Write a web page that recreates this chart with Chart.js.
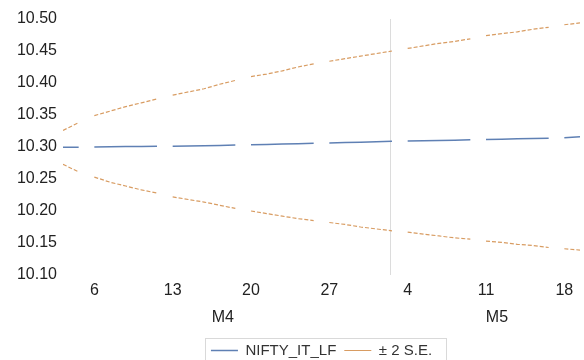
<!DOCTYPE html>
<html>
<head>
<meta charset="utf-8">
<script src="https://cdn.jsdelivr.net/npm/chart.js@4/dist/chart.umd.min.js"></script>
<style>
  html, body { margin: 0; padding: 0; background: #fff; }
  #wrap { width: 584px; height: 360px; position: relative; }
</style>
</head>
<body>
<div id="wrap"><canvas id="c" width="584" height="360"></canvas></div>
<script>
// ---- Data (business-day observations, 2 Apr – 19 May) ----
const obsDates = [
  '2015-04-02','2015-04-03',
  '2015-04-06','2015-04-07','2015-04-08','2015-04-09','2015-04-10',
  '2015-04-13','2015-04-14','2015-04-15','2015-04-16','2015-04-17',
  '2015-04-20','2015-04-21','2015-04-22','2015-04-23','2015-04-24',
  '2015-04-27','2015-04-28','2015-04-29','2015-04-30','2015-05-01',
  '2015-05-04','2015-05-05','2015-05-06','2015-05-07','2015-05-08',
  '2015-05-11','2015-05-12','2015-05-13','2015-05-14','2015-05-15',
  '2015-05-18','2015-05-19'
];
const forecast = [
  10.2996, 10.2998,
  10.3000, 10.3003, 10.3006, 10.3008, 10.3010,
  10.3013, 10.3016, 10.3019, 10.3024, 10.3030,
  10.3035, 10.3040, 10.3046, 10.3052, 10.3058,
  10.3064, 10.3070, 10.3076, 10.3082, 10.3088,
  10.3092, 10.3097, 10.3102, 10.3107, 10.3112,
  10.3117, 10.3122, 10.3127, 10.3132, 10.3137,
  10.3145, 10.3160
];
const upperBand = [
  10.326, 10.338,
  10.349, 10.356, 10.363, 10.369, 10.375,
  10.381, 10.386, 10.391, 10.398, 10.404,
  10.410, 10.414, 10.419, 10.425, 10.430,
  10.434, 10.438, 10.442, 10.446, 10.450,
  10.454, 10.458, 10.462, 10.465, 10.469,
  10.474, 10.477, 10.480, 10.484, 10.487,
  10.491, 10.494
];
const lowerBand = [
  10.273, 10.261,
  10.253, 10.245, 10.239, 10.233, 10.228,
  10.222, 10.218, 10.214, 10.209, 10.204,
  10.200, 10.196, 10.192, 10.188, 10.185,
  10.182, 10.179, 10.175, 10.172, 10.169,
  10.167, 10.164, 10.161, 10.158, 10.156,
  10.153, 10.151, 10.148, 10.146, 10.143,
  10.141, 10.139
];
const yTickValues = [10.10, 10.15, 10.20, 10.25, 10.30, 10.35, 10.40, 10.45, 10.50];
const monthLabels = ['M4', 'M5'];
const seriesNames = ['NIFTY_IT_LF', '\u00B1 2 S.E.'];

// ---- derived helpers ----
const dateObjs = obsDates.map(s => new Date(s + 'T00:00:00Z'));
const mondayIdx = [];
const mondayLabels = [];
dateObjs.forEach((d, i) => { if (d.getUTCDay() === 1) { mondayIdx.push(i); mondayLabels.push(String(d.getUTCDate())); } });
let sepIdx = 0;
for (let i = 1; i < dateObjs.length; i++) {
  if (dateObjs[i].getUTCMonth() !== dateObjs[i-1].getUTCMonth()) { sepIdx = i; }
}
const monthPos = [10.2, 27.7];

function buildPoints(vals) {
  const pts = [];
  for (let i = 0; i < vals.length; i++) {
    pts.push({x: i, y: vals[i]});
    if (i < vals.length - 1) {
      const gapDays = (dateObjs[i+1] - dateObjs[i]) / 86400000;
      if (gapDays > 1) pts.push({x: i + 0.5, y: null});
    }
  }
  return pts;
}

const FONT = "'Liberation Sans', Arial, sans-serif";
const BLUE = '#5f80b4';
const ORANGE = '#d89c62';

const decor = {
  id: 'decor',
  afterLayout(chart) {
    const lg = chart.legend;
    if (lg) { lg.top += 8; lg.bottom += 8; }
  },
  beforeDatasetsDraw(chart) {
    const {ctx, chartArea} = chart;
    const x = chart.scales.x.getPixelForValue(sepIdx - 0.15);
    ctx.save();
    ctx.strokeStyle = '#dcdcdc';
    ctx.lineWidth = 1;
    ctx.beginPath();
    ctx.moveTo(Math.round(x) + 0.5, chartArea.top);
    ctx.lineTo(Math.round(x) + 0.5, chartArea.bottom);
    ctx.stroke();
    ctx.restore();
  },
  afterDraw(chart) {
    const lg = chart.legend;
    if (!lg || !lg.legendHitBoxes || !lg.legendHitBoxes.length) return;
    const hb = lg.legendHitBoxes;
    let l = Infinity, r = -Infinity, cy = 0;
    hb.forEach(b => { l = Math.min(l, b.left); r = Math.max(r, b.left + b.width); cy = b.top + b.height / 2; });
    const ctx = chart.ctx;
    ctx.save();
    ctx.strokeStyle = '#d9d9d9';
    ctx.lineWidth = 1;
    ctx.strokeRect(Math.round(l - 6) + 0.5, Math.round(cy - 13) + 0.5, Math.round(r - l + 20), 30);
    ctx.restore();
  }
};

new Chart(document.getElementById('c'), {
  type: 'line',
  data: {
    datasets: [
      {
        label: seriesNames[0],
        data: buildPoints(forecast),
        borderColor: BLUE,
        backgroundColor: 'rgba(0,0,0,0)',
        borderWidth: 1.5,
        pointRadius: 0,
        tension: 0,
        spanGaps: false
      },
      {
        label: seriesNames[1],
        data: buildPoints(upperBand),
        borderColor: ORANGE,
        backgroundColor: 'rgba(0,0,0,0)',
        borderWidth: 1.2,
        borderDash: [4, 2],
        pointRadius: 0,
        tension: 0,
        spanGaps: false
      },
      {
        label: '_lower',
        data: buildPoints(lowerBand),
        borderColor: ORANGE,
        backgroundColor: 'rgba(0,0,0,0)',
        borderWidth: 1.2,
        borderDash: [4, 2],
        pointRadius: 0,
        tension: 0,
        spanGaps: false
      }
    ]
  },
  options: {
    responsive: false,
    animation: false,
    layout: { padding: { top: 19, right: 4, left: 0, bottom: 0 } },
    plugins: {
      tooltip: { enabled: false },
      legend: {
        position: 'bottom',
        fullSize: false,
        labels: {
          color: '#333',
          font: { family: FONT, size: 15 },
          boxWidth: 27,
          boxHeight: 0,
          padding: 8,
          filter: item => !item.text.startsWith('_')
        }
      }
    },
    scales: {
      x: {
        type: 'linear',
        min: 0,
        max: obsDates.length - 1,
        grid: { display: false, drawTicks: false },
        border: { display: false },
        afterBuildTicks(scale) { scale.ticks = mondayIdx.map(v => ({value: v})); },
        afterFit(scale) { scale.height = 25; },
        ticks: {
          color: '#222',
          font: { family: FONT, size: 16 },
          padding: 6,
          maxRotation: 0,
          autoSkip: false,
          callback: (v) => { const k = mondayIdx.indexOf(v); return k >= 0 ? mondayLabels[k] : ''; }
        }
      },
      xMonth: {
        type: 'linear',
        position: 'bottom',
        min: 0,
        max: obsDates.length - 1,
        grid: { display: false, drawTicks: false },
        border: { display: false },
        afterBuildTicks(scale) { scale.ticks = monthPos.map(v => ({value: v})); },
        afterFit(scale) { scale.height = 27; },
        ticks: {
          color: '#222',
          font: { family: FONT, size: 16 },
          padding: 8,
          maxRotation: 0,
          autoSkip: false,
          callback: (v) => { const k = monthPos.indexOf(v); return k >= 0 ? monthLabels[k] : ''; }
        }
      },
      y: {
        min: 10.10,
        max: 10.50,
        grid: { display: false, drawTicks: false },
        border: { display: false },
        afterBuildTicks(scale) { scale.ticks = yTickValues.map(v => ({value: v})); },
        afterFit(scale) { scale.width = 63; },
        ticks: {
          color: '#222',
          font: { family: FONT, size: 16 },
          padding: 6,
          callback: (v) => Number(v).toFixed(2)
        }
      }
    }
  },
  plugins: [decor]
});
</script>
</body>
</html>
